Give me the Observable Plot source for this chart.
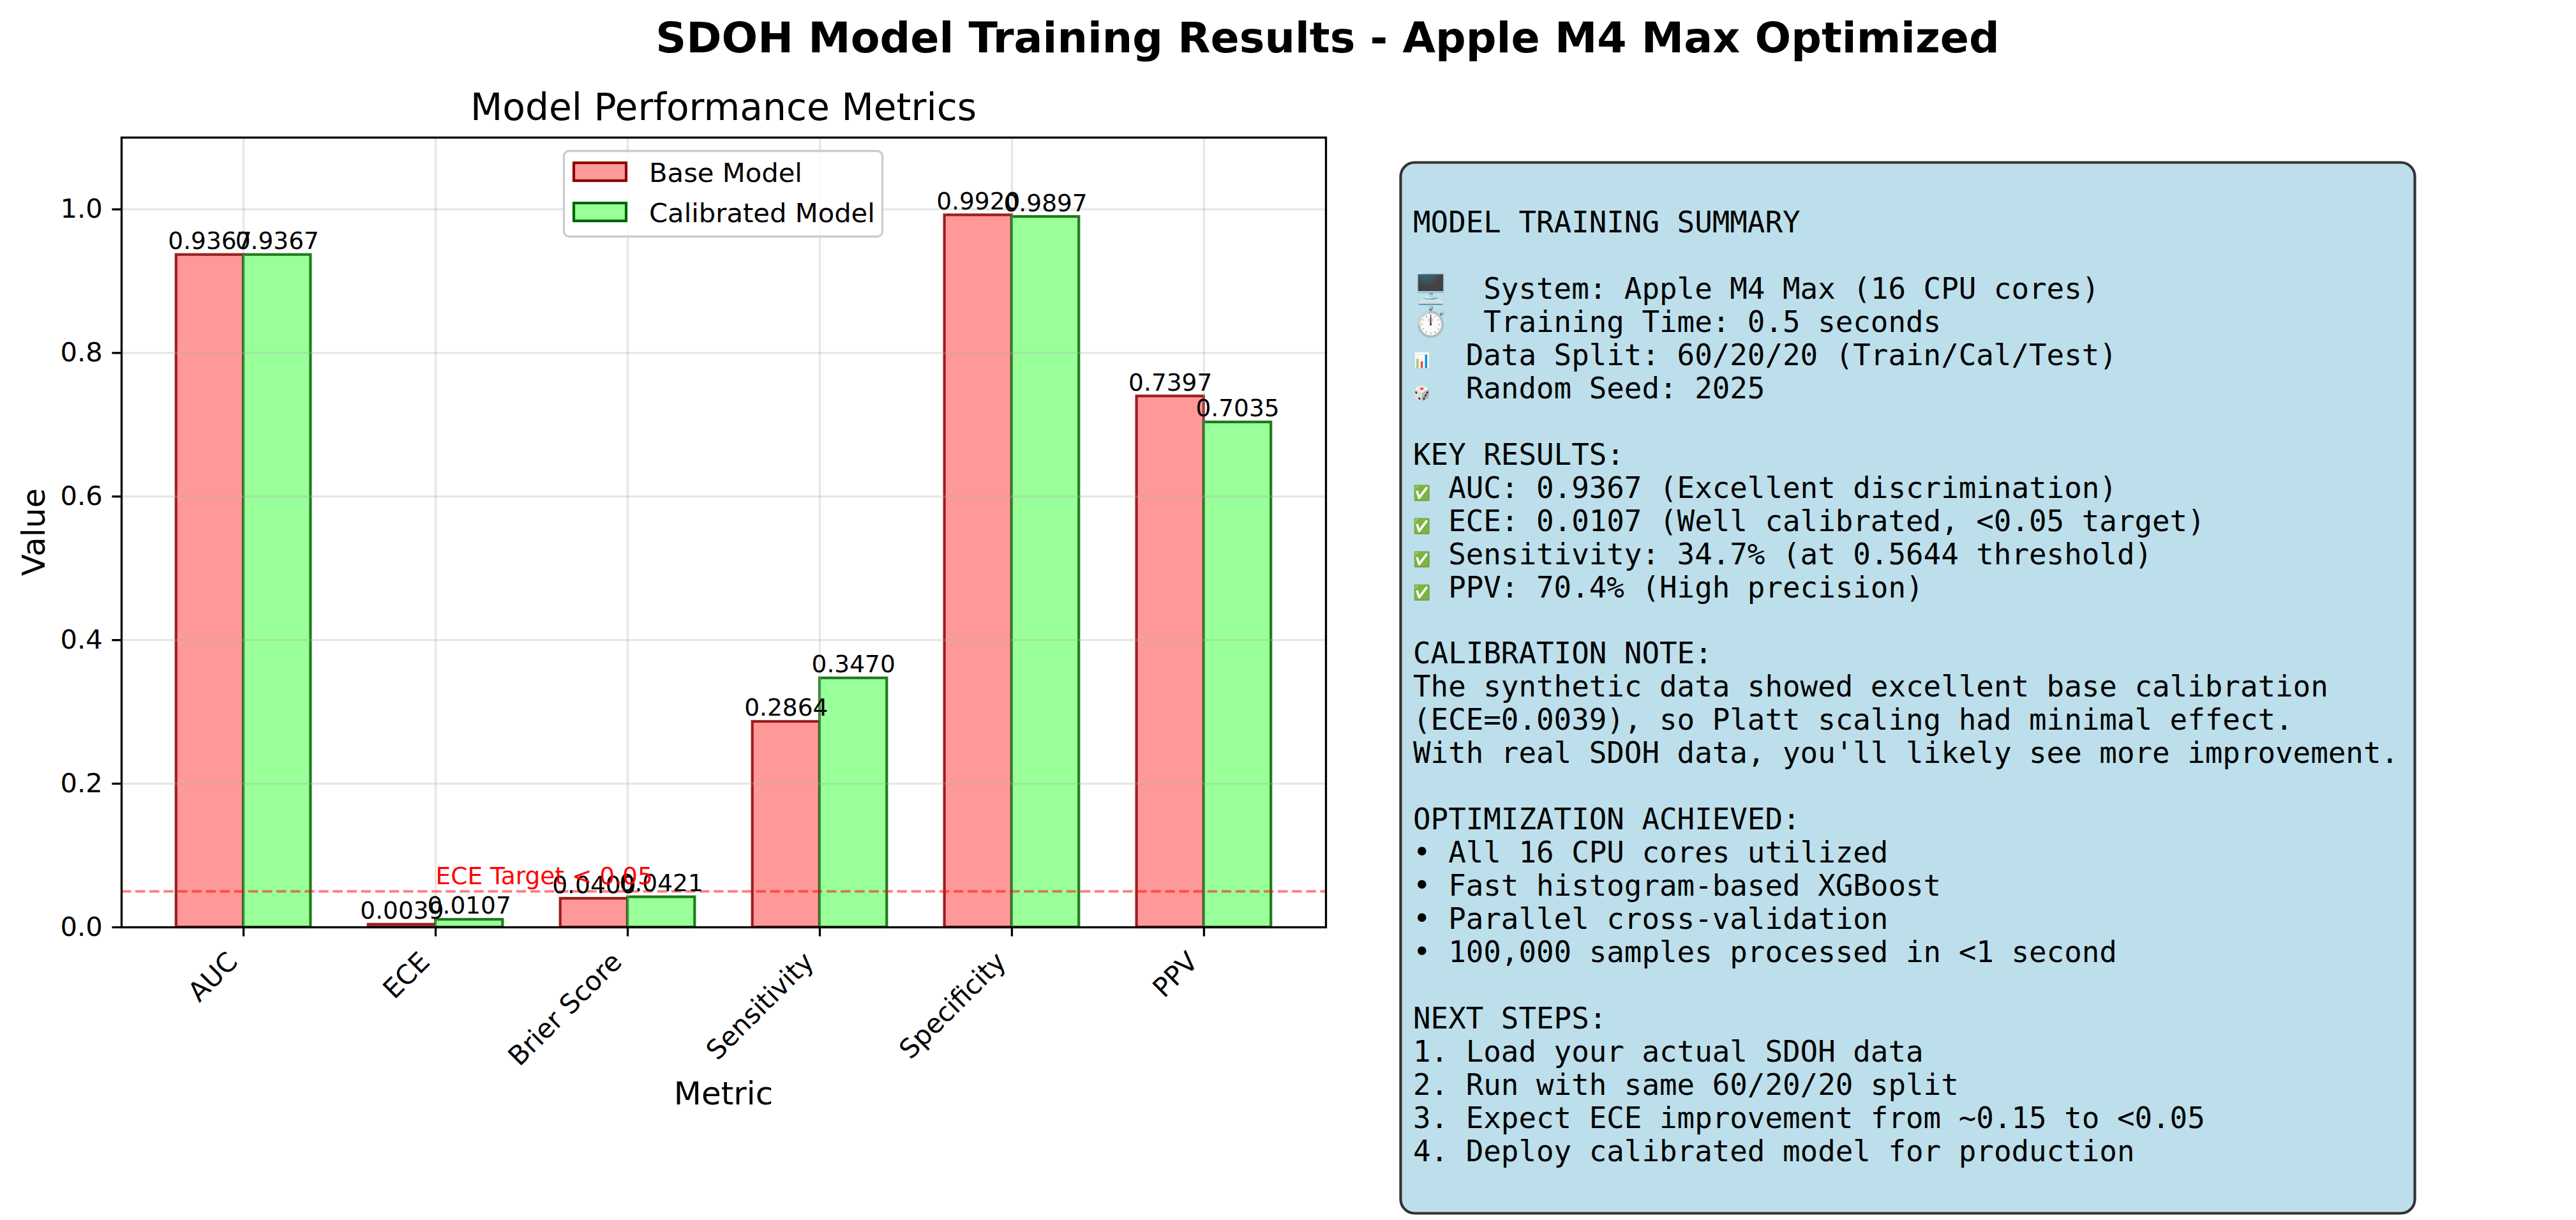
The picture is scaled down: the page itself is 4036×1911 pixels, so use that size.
<!DOCTYPE html>
<html>
<head>
<meta charset="utf-8">
<script src="https://cdn.jsdelivr.net/npm/d3@7"></script>
<script src="https://cdn.jsdelivr.net/npm/@observablehq/plot@0.6"></script>
<style>
  html, body { margin: 0; padding: 0; background: #ffffff; }
  #chart { position: relative; width: 4036px; height: 1911px; overflow: hidden; background: #ffffff; }
  #chart svg { position: absolute; left: 0; top: 0; }
  text { white-space: pre; }
</style>
</head>
<body>
<div id="chart"></div>
<script>
// ---------------- data ----------------
const figureTitle = "SDOH Model Training Results - Apple M4 Max Optimized";
const subplotTitle = "Model Performance Metrics";
const xLabel = "Metric";
const yLabel = "Value";
const categories = ["AUC", "ECE", "Brier Score", "Sensitivity", "Specificity", "PPV"];
const seriesNames = ["Base Model", "Calibrated Model"];
const baseValues = [0.9367, 0.0039, 0.0400, 0.2864, 0.9920, 0.7397];
const calibratedValues = [0.9367, 0.0107, 0.0421, 0.3470, 0.9897, 0.7035];
const yTicks = [0.0, 0.2, 0.4, 0.6, 0.8, 1.0];
const eceTarget = 0.05;
const eceTargetLabel = "ECE Target < 0.05";
const summaryLines = [
  "MODEL TRAINING SUMMARY",
  "",
  "🖥️  System: Apple M4 Max (16 CPU cores)",
  "⏱️  Training Time: 0.5 seconds",
  "📊  Data Split: 60/20/20 (Train/Cal/Test)",
  "🎲  Random Seed: 2025",
  "",
  "KEY RESULTS:",
  "✅ AUC: 0.9367 (Excellent discrimination)",
  "✅ ECE: 0.0107 (Well calibrated, <0.05 target)",
  "✅ Sensitivity: 34.7% (at 0.5644 threshold)",
  "✅ PPV: 70.4% (High precision)",
  "",
  "CALIBRATION NOTE:",
  "The synthetic data showed excellent base calibration",
  "(ECE=0.0039), so Platt scaling had minimal effect.",
  "With real SDOH data, you'll likely see more improvement.",
  "",
  "OPTIMIZATION ACHIEVED:",
  "• All 16 CPU cores utilized",
  "• Fast histogram-based XGBoost",
  "• Parallel cross-validation",
  "• 100,000 samples processed in <1 second",
  "",
  "NEXT STEPS:",
  "1. Load your actual SDOH data",
  "2. Run with same 60/20/20 split",
  "3. Expect ECE improvement from ~0.15 to <0.05",
  "4. Deploy calibrated model for production"
];

// ---------------- styling / layout ----------------
const W = 4036, H = 1911;
const frame = {left: 190, right: 2077, top: 215, bottom: 1452};
const barW = 0.35;
const seriesFill = {"Base Model": "#FF9999", "Calibrated Model": "#99FF99"};
const seriesStroke = {"Base Model": "#8B0000", "Calibrated Model": "#006400"};
const SANS = "DejaVu Sans";
const MONO = "DejaVu Sans Mono";

const rows = [
  ...categories.map((metric, i) => ({metric, i, series: seriesNames[0], value: baseValues[i]})),
  ...categories.map((metric, i) => ({metric, i, series: seriesNames[1], value: calibratedValues[i]}))
];
const left = d => d.i + (d.series === seriesNames[0] ? -barW : 0);
const idx = categories.map((c, i) => i);

const svg = Plot.plot({
  width: W,
  height: H,
  marginLeft: frame.left,
  marginRight: W - frame.right,
  marginTop: frame.top,
  marginBottom: H - frame.bottom,
  style: {fontFamily: SANS, fontSize: "41.7px", color: "#000", background: "transparent", overflow: "visible"},
  x: {type: "linear", domain: [-0.635, categories.length - 1 + 0.635], axis: null},
  y: {type: "linear", domain: [0, 1.1], axis: null},
  marks: [
    Plot.rect(rows, {
      x1: left,
      x2: d => left(d) + barW,
      y1: 0,
      y2: "value",
      fill: d => seriesFill[d.series],
      stroke: d => seriesStroke[d.series],
      strokeWidth: 4.17,
      strokeOpacity: 0.85
    }),
    Plot.ruleY(yTicks, {stroke: "#b0b0b0", strokeOpacity: 0.3, strokeWidth: 3.33}),
    Plot.ruleX(idx, {stroke: "#b0b0b0", strokeOpacity: 0.3, strokeWidth: 3.33}),
    Plot.ruleY([eceTarget], {stroke: "#FF0000", strokeOpacity: 0.5, strokeWidth: 4.17, strokeDasharray: "15.4,6.7"}),
    Plot.frame({stroke: "#000", strokeWidth: 3.33}),
    Plot.axisY({
      ticks: yTicks, tickFormat: d3.format(".1f"), tickSize: 14.6, tickPadding: 15,
      strokeWidth: 3.33, fontSize: 41.7, label: null
    }),
    Plot.axisX({
      ticks: idx, tickFormat: () => "", tickSize: 14.6, strokeWidth: 3.33, label: null
    }),
    Plot.text(idx, {
      x: d => d, frameAnchor: "bottom", text: d => categories[d],
      rotate: -45, textAnchor: "end", lineAnchor: "bottom",
      dx: -7, dy: 56.5, fontSize: 41.7, fill: "#000"
    }),
    Plot.text(rows, {
      x: d => left(d) + barW / 2, y: "value", text: d => d.value.toFixed(4),
      lineAnchor: "bottom", dy: -9, fontSize: 37.5, fill: "#000"
    }),
    Plot.text([eceTarget], {
      x: () => categories.indexOf("ECE"), y: d => d + 0.01, text: () => eceTargetLabel,
      textAnchor: "start", lineAnchor: "bottom", fontSize: 37.5, fill: "#FF0000"
    })
  ]
});

document.getElementById("chart").appendChild(svg);
const s = d3.select(svg);

// titles and axis labels
s.append("text").attr("x", 2080).attr("y", 82).attr("text-anchor", "middle")
  .attr("font-family", SANS).attr("font-weight", "bold").attr("font-size", 66.7).attr("fill", "#000")
  .text(figureTitle);
s.append("text").attr("x", (frame.left + frame.right) / 2).attr("y", 188).attr("text-anchor", "middle")
  .attr("font-family", SANS).attr("font-size", 58.3).attr("fill", "#000").text(subplotTitle);
s.append("text").attr("x", (frame.left + frame.right) / 2).attr("y", 1730).attr("text-anchor", "middle")
  .attr("font-family", SANS).attr("font-size", 50).attr("fill", "#000").text(xLabel);
s.append("text").attr("transform", `translate(70,${(frame.top + frame.bottom) / 2}) rotate(-90)`)
  .attr("text-anchor", "middle").attr("font-family", SANS).attr("font-size", 50).attr("fill", "#000").text(yLabel);

// legend
const lg = s.append("g").attr("text-anchor", "start");
lg.append("rect").attr("x", 883.5).attr("y", 236.5).attr("width", 499).attr("height", 134).attr("rx", 8)
  .attr("fill", "#fff").attr("fill-opacity", 0.8).attr("stroke", "#cccccc").attr("stroke-width", 3.33);
seriesNames.forEach((name, k) => {
  const yTop = 255 + k * 63;
  lg.append("rect").attr("x", 899).attr("y", yTop).attr("width", 82).attr("height", 28)
    .attr("fill", seriesFill[name]).attr("stroke", seriesStroke[name]).attr("stroke-width", 4.17);
  lg.append("text").attr("x", 1017).attr("y", 285 + k * 63).attr("text-anchor", "start").attr("font-family", SANS)
    .attr("font-size", 41.7).attr("fill", "#000").text(name);
});

// summary text box
const box = s.append("g").attr("text-anchor", "start");
box.append("rect").attr("x", 2194.5).attr("y", 254.5).attr("width", 1589).attr("height", 1646).attr("rx", 22)
  .attr("fill", "#BDDFEB").attr("stroke", "#333333").attr("stroke-width", 4.17);
const boxFont = 45.8, colW = boxFont * 0.602, textX = 2214;
const emojiRe = /^(\p{Extended_Pictographic}\uFE0F?)( *)(.*)$/u;
summaryLines.forEach((line, k) => {
  const y = 364 + k * 51.96;
  const m = line.match(emojiRe);
  if (m) {
    const cols = Array.from(m[1]).length;
    const wEm = cols * colW;
    box.append("text").attr("x", textX).attr("y", y).attr("text-anchor", "start")
      .attr("font-size", Math.min(boxFont, wEm / 1.2)).attr("textLength", wEm).attr("lengthAdjust", "spacingAndGlyphs")
      .text(m[1]);
    box.append("text").attr("x", textX + (cols + m[2].length) * colW).attr("y", y).attr("text-anchor", "start")
      .attr("font-family", MONO).attr("font-size", boxFont).attr("fill", "#000").text(m[3]);
  } else {
    box.append("text").attr("x", textX).attr("y", y).attr("text-anchor", "start").attr("font-family", MONO)
      .attr("font-size", boxFont).attr("fill", "#000").attr("xml:space", "preserve").text(line);
  }
});
</script>
</body>
</html>
